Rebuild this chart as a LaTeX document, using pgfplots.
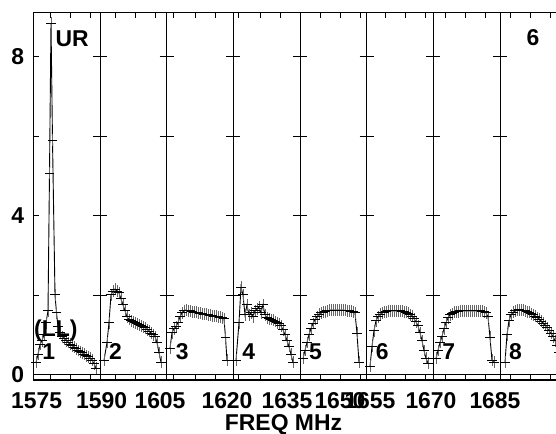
\documentclass[border=0pt]{standalone}
\usepackage{fontspec}
\setmainfont{Liberation Sans}
\usepackage{pgfplots}
\usetikzlibrary{plotmarks}
\pgfplotsset{compat=1.18}
\pgfplotsset{
  spec/.style={black, line width=0.9bp, mark=-, mark size=4.8bp,
    mark options={line width=0.9bp, solid, black},
    error bars/.cd, y dir=both, y fixed=0.15, error mark=none,
    error bar style={black!60, line width=0.7bp}},
}
\newcommand{\lab}{\fontsize{23}{23}\selectfont\bfseries}
\begin{document}
\begin{tikzpicture}
\begin{axis}[
  scale only axis, width=533.33bp, height=367.3bp,
  at={(33.33bp,54bp)}, anchor=south west,
  xmin=33.33, xmax=566.67, ymin=-0.144, ymax=9.113,
  axis line style={line width=1.2bp, black},
  xtick={36.7,101.7,160,227,287,340,370,431,495},
  xticklabels={1575,1590,1605,1620,1635,1650,1655,1670,1685},
  minor xtick={50,70,90,115,135,155,173,195,215,238,260,280,320,340,360,385,405,425,445,465,485,510,530,550},
  major x tick style={draw=none},
  minor x tick style={line width=0.8bp, black},
  minor tick length=5bp,
  ytick={0,4,8}, yticklabels={0,4,8},
  minor ytick={2,6},
  major tick length=6bp,
  major y tick style={line width=0.8bp, black},
  minor y tick style={line width=0.8bp, black, /pgfplots/minor tick length=6bp},
  /pgf/number format/assume math mode=true,
  ticklabel style={font=\fontsize{23}{23}\selectfont\bfseries, inner sep=0pt},
  xticklabel style={anchor=base, yshift=-28bp},
  yticklabel style={anchor=east, xshift=-9bp},
  clip=true,
]
% zero line
\addplot[black, line width=1bp, mark=none] coordinates {(33.33,0) (566.67,0)};
% panel separators with ticks
\pgfplotsinvokeforeach{100,166.67,233.33,300,366.67,433.33,500}{
  \draw[black, line width=0.9bp] (axis cs:#1,-0.3) -- (axis cs:#1,9.3);
  \draw[black, line width=0.8bp] ([xshift=-7bp]axis cs:#1,2) -- ([xshift=7bp]axis cs:#1,2);
  \draw[black, line width=0.8bp] ([xshift=-7bp]axis cs:#1,4) -- ([xshift=7bp]axis cs:#1,4);
  \draw[black, line width=0.8bp] ([xshift=-7bp]axis cs:#1,6) -- ([xshift=7bp]axis cs:#1,6);
  \draw[black, line width=0.8bp] ([xshift=-7bp]axis cs:#1,8) -- ([xshift=7bp]axis cs:#1,8);
}
% IF 1
\addplot[spec] coordinates {(36,0.3) (38,0.5) (40,0.75) (42,0.85) (44,1.0) (46,1.3) (48,1.6) (49.5,5.07) (51,8.85) (52.5,5.9) (55,2.0) (56.5,1.55) (58,1.2) (60,1.05) (62,0.95) (64,0.9) (66,0.85) (68,0.8) (70,0.76) (72,0.72) (74,0.68) (76,0.64) (78,0.6) (80,0.57) (82,0.54) (84,0.5) (86,0.47) (88,0.44) (90,0.4) (92,0.35) (94,0.27) (96,0.15)};
% IF 2
\addplot[spec] coordinates {(104,0.35) (107,0.8) (109,1.3) (111,2.0) (113,2.1) (115,2.15) (117,2.1) (119,2.05) (121,1.9) (123,1.75) (125,1.6) (127,1.45) (129,1.38) (131,1.35) (133,1.32) (135,1.3) (137,1.27) (139,1.25) (141,1.22) (143,1.2) (145,1.17) (147,1.12) (149,1.08) (151,1.04) (153,1.0) (155,0.95) (157,0.8) (159,0.55) (161,0.3)};
% IF 3
\addplot[spec] coordinates {(170,0.65) (172,1.05) (174,1.15) (176,1.2) (178,1.3) (180,1.45) (182,1.55) (184,1.6) (186,1.62) (188,1.6) (190,1.6) (192,1.58) (194,1.57) (196,1.56) (198,1.55) (200,1.54) (202,1.53) (204,1.52) (206,1.51) (208,1.5) (210,1.49) (212,1.48) (214,1.47) (216,1.46) (218,1.45) (220,1.44) (222,1.42) (224,1.4) (225.5,0.93) (227,0.35)};
% IF 4
\addplot[spec] coordinates {(236,0.35) (239,1.3) (241,2.2) (243,2.0) (245,1.5) (247,1.75) (249,1.5) (251,1.55) (253,1.45) (255,1.6) (257,1.65) (259,1.7) (261,1.55) (263,1.75) (265,1.5) (267,1.42) (269,1.4) (271,1.38) (273,1.36) (275,1.33) (277,1.3) (279,1.28) (281,1.22) (283,1.12) (285,1.0) (287,0.85) (289,0.7) (291,0.5) (293,0.3)};
% IF 5
\addplot[spec] coordinates {(303,0.4) (305,0.6) (307,0.8) (309,1.0) (311,1.15) (313,1.28) (315,1.38) (317,1.45) (319,1.52) (321,1.55) (323,1.57) (325,1.58) (327,1.6) (329,1.61) (331,1.62) (333,1.62) (335,1.62) (337,1.62) (339,1.62) (341,1.62) (343,1.62) (345,1.61) (347,1.6) (349,1.6) (351,1.59) (353,1.58) (355,1.55) (357,1.03) (359,0.3)};
% IF 6
\addplot[spec] coordinates {(370,0.2) (372,0.7) (374,1.1) (376,1.35) (378,1.45) (380,1.52) (382,1.55) (384,1.57) (386,1.58) (388,1.6) (390,1.6) (392,1.6) (394,1.6) (396,1.6) (398,1.6) (400,1.6) (402,1.59) (404,1.58) (406,1.56) (408,1.54) (410,1.5) (412,1.46) (414,1.4) (416,1.32) (418,1.22) (420,1.05) (422,0.85) (424,0.6) (426,0.4) (428,0.28)};
% IF 7
\addplot[spec] coordinates {(436,0.4) (438,0.6) (440,0.8) (442,0.95) (444,1.15) (446,1.3) (448,1.42) (450,1.5) (452,1.53) (454,1.56) (456,1.58) (458,1.58) (460,1.6) (462,1.6) (464,1.6) (466,1.6) (468,1.6) (470,1.6) (472,1.6) (474,1.6) (476,1.6) (478,1.6) (480,1.6) (482,1.59) (484,1.58) (486,1.55) (488,1.45) (490,0.93) (492,0.35) (494,0.3)};
% IF 8
\addplot[spec] coordinates {(505,0.3) (507,1.0) (509,1.35) (511,1.5) (513,1.56) (515,1.6) (517,1.62) (519,1.63) (521,1.62) (523,1.61) (525,1.6) (527,1.58) (529,1.56) (531,1.53) (533,1.5) (535,1.47) (537,1.43) (539,1.39) (541,1.34) (543,1.29) (545,1.23) (547,1.17) (549,1.1) (551,1.03) (553,0.95) (555,0.85) (557,0.72) (559,0.55)};
\end{axis}
% annotations (page coordinates: x px, 434 - y px)
\node[anchor=base west, inner sep=0pt, font=\lab] at (55.5bp,387bp) {UR};
\node[anchor=base west, inner sep=0pt, font=\lab] at (526.5bp,388bp) {6};
\node[anchor=base west, inner sep=0pt, font=\lab] at (34bp,97bp) {(LL)};
\foreach \p [count=\i] in {33.33,100,166.67,233.33,300,366.67,433.33,500}{
  \node[anchor=base, inner sep=0pt, font=\lab] at (\p bp+15.5bp,74bp) {\i};
}
\node[anchor=base, inner sep=0pt, font=\fontsize{23}{23}\selectfont\bfseries] at (283.5bp,4bp) {FREQ MHz};
\pgfresetboundingbox
\path[use as bounding box] (0,0) rectangle (556bp,434bp);
\end{tikzpicture}
\end{document}
